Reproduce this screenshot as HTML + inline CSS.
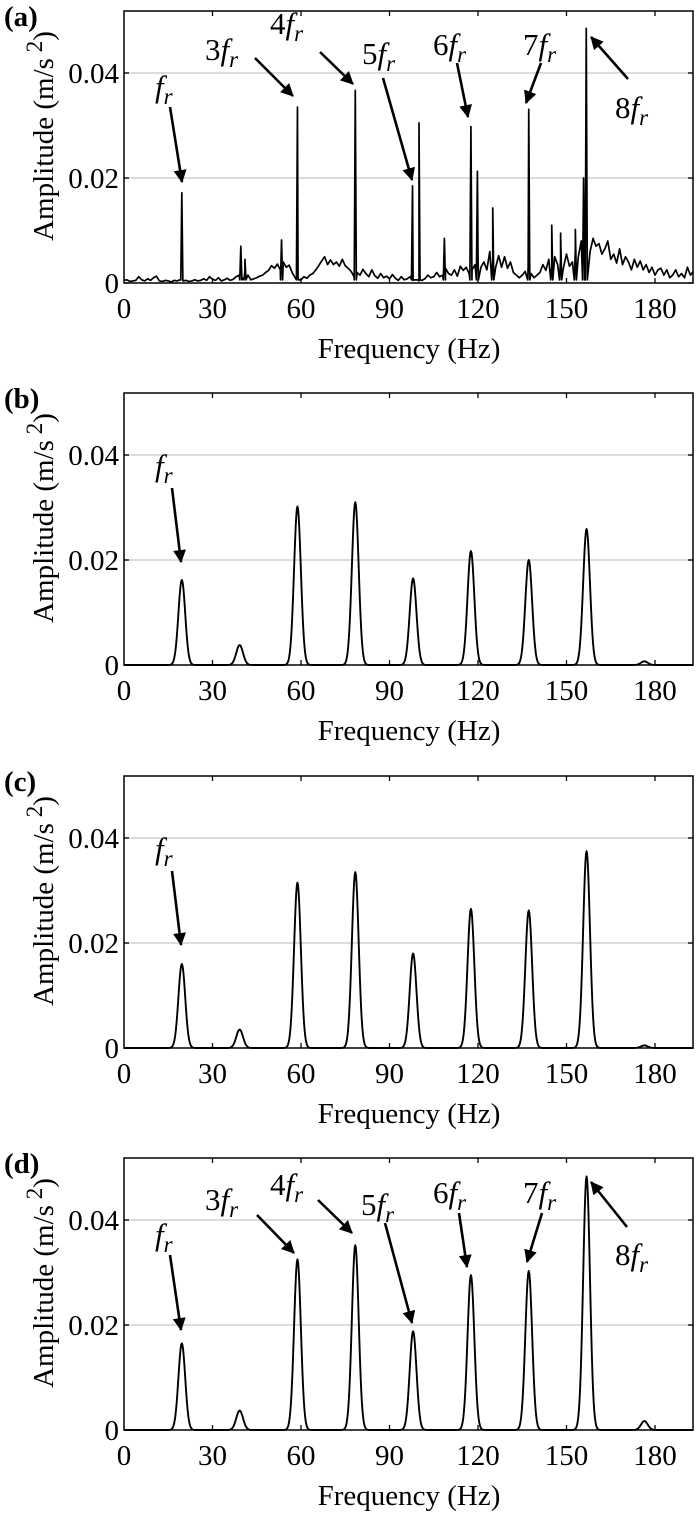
<!DOCTYPE html>
<html><head><meta charset="utf-8"><style>
html,body{margin:0;padding:0;background:#fff;}
svg{display:block;}
svg text{font-family:"Liberation Serif","DejaVu Serif","Times New Roman",serif;}
</style></head><body>
<svg id="fig" width="700" height="1516" viewBox="0 0 700 1516"></svg>
<script>
// ---- data ----
const xTicks=[0,30,60,90,120,150,180];
const yTicks=[0,0.02,0.04];
const yTickLabels=["0","0.02","0.04"];
const panelLabels=["(a)","(b)","(c)","(d)"];
const harmFreq=[19.6,39.2,58.8,78.4,98.0,117.6,137.2,156.8,176.4];
const ampB=[0.0162,0.0038,0.0302,0.0310,0.0165,0.0217,0.0200,0.0259,0.0007];
const ampC=[0.0160,0.0035,0.0315,0.0335,0.0180,0.0265,0.0262,0.0375,0.0005];
const ampD=[0.0165,0.0037,0.0325,0.0352,0.0188,0.0295,0.0303,0.0483,0.0017];
// panel (a): noise floor per 1 Hz (units 1e-3) and spike list
const noiseA=[0.5,0.6,0.3,0.4,0.5,1.2,0.6,0.4,0.8,0.5,1.0,
1.3,0.4,0.3,0.5,0.4,0.2,0.5,0.4,0.6,
0.4,0.5,0.3,0.4,0.6,0.4,0.5,0.8,0.5,1.2,0.7,0.5,1.0,0.4,0.6,0.9,0.5,0.7,1.2,
1.5,1.0,2.4,1.5,0.6,0.8,1.0,1.3,1.5,2.0,2.4,3.3,2.8,3.6,2.5,4.0,3.0,3.4,2.0,
1.0,0.8,0.6,1.2,0.9,1.5,1.8,2.5,3.3,4.2,5.0,3.5,4.4,3.5,4.0,3.2,4.5,3.3,2.8,
2.2,1.2,2.0,1.5,2.6,1.8,1.2,2.5,1.4,0.9,1.8,1.0,1.3,0.8,1.6,0.9,0.5,1.2,0.6,
0.8,1.2,0.5,0.6,0.4,0.5,0.8,1.5,1.0,1.2,2.0,1.2,1.5,2.8,1.8,1.5,2.5,1.3,3.2,2.4,
3.0,1.8,2.5,3.5,5.5,3.0,4.0,2.5,6.0,4.5,3.0,5.2,3.0,5.0,2.8,4.0,2.0,1.5,1.0,1.5,
2.2,3.0,1.8,1.0,1.5,2.0,3.5,2.4,4.5,3.0,5.0,3.5,4.6,3.0,5.5,3.2,4.0,6.5,5.0,8.0,
9.0,7.5,6.0,8.5,7.0,7.5,5.5,6.5,8.0,4.5,5.5,3.8,6.5,3.5,5.0,4.0,2.5,4.5,3.0,4.2,
2.5,3.5,2.0,3.0,1.5,2.5,2.8,1.5,2.5,1.0,1.5,2.5,1.2,1.8,1.0,3.0,1.5,2.2];
const spikeFreqA=[19.6,39.6,41.0,53.4,58.8,78.4,97.8,100.0,108.6,117.6,119.8,125.0,137.2,145.0,148.0,153.0,155.8,156.7];
const spikeAmpA=[0.0172,0.0070,0.0045,0.0082,0.0335,0.0367,0.0185,0.0305,0.0085,0.0298,0.0213,0.0143,0.0331,0.0110,0.0095,0.0102,0.0200,0.0485];

// ---- scales ----
const offsets=[0,382,765,1147];
const X0=124,X1=693,PX_PER_HZ=2.95,TOP=11,BOT=283;
function xs(f){return X0+f*PX_PER_HZ;}
function ys(v,oy){return oy+BOT-v/0.02*105;}
const svg=document.getElementById('fig');
const NS='http://www.w3.org/2000/svg';
function mk(tag,attrs,parent){const e=document.createElementNS(NS,tag);for(const k in attrs)e.setAttribute(k,attrs[k]);(parent||svg).appendChild(e);return e;}

const defs=mk('defs',{});
const mkr=mk('marker',{id:'ah',markerWidth:'5',markerHeight:'5',refX:'4.6',refY:'2.5',orient:'auto',markerUnits:'strokeWidth'},defs);
mk('path',{d:'M0,0 L5,2.5 L0,5 Z',fill:'#000'},mkr);

const annA=[["",155,97,170,107,182,182],["3",205,60,255,58,293,96],["4",270,34,320,52,353,84],
["5",362,64,383,78,412,180],["6",433,55,457,63,468,117],["7",523,55,541,63,526,103],["8",615,118,628,79,591,37]];
const annD=[["",155,1245,170,1255,181,1330],["3",205,1210,257,1215,294,1253],["4",270,1195,318,1200,352,1233],
["5",361,1215,385,1223,412,1323],["6",433,1203,459,1213,467,1267],["7",523,1203,542,1213,527,1262],["8",615,1265,627,1227,591,1182]];
const annB=[["",155,476,172,488,181,562]];
const annC=[["",155,859,172,871,181,945]];
const anns=[annA,annB,annC,annD];

function buildA(){
  const pts=[];
  for(let i=0;i<noiseA.length;i++)pts.push([i,noiseA[i]*0.001]);
  for(let j=0;j<spikeFreqA.length;j++){
    const f=spikeFreqA[j];
    pts.push([f-0.35,0.0006]);pts.push([f,spikeAmpA[j]]);pts.push([f+0.35,0.0006]);
  }
  pts.sort((a,b)=>a[0]-b[0]);
  return pts.filter(p=>p[0]<=193);
}
function buildPeaks(amps){
  const pts=[],s=1.15;
  for(let f=0;f<=193;f+=0.2){
    let v=0;
    for(let k=0;k<harmFreq.length;k++){const d=f-harmFreq[k];v+=amps[k]*Math.exp(-d*d/(2*s*s));}
    pts.push([f,v]);
  }
  return pts;
}
const series=[buildA(),buildPeaks(ampB),buildPeaks(ampC),buildPeaks(ampD)];
const pn=['a','b','c','d'];

for(let p=0;p<4;p++){
  const oy=offsets[p];
  const g=mk('g',{});
  
  
  for(const v of [0.02,0.04]){
    const gl=mk('line',{x1:X0,x2:X1,y1:ys(v,oy),y2:ys(v,oy),stroke:'#d0d0d0','stroke-width':1.5},g);
    
    
  }
  const d=series[p].map((q,i)=>(i?'L':'M')+xs(q[0]).toFixed(2)+','+ys(q[1],oy).toFixed(2)).join('');
  const ln=mk('path',{d:d,fill:'none',stroke:'#000','stroke-width':p===0?1.7:1.9,'stroke-linejoin':'round'},g);
  
  
  const bx=mk('rect',{x:X0,y:oy+TOP,width:X1-X0,height:BOT-TOP,fill:'none',stroke:'#000','stroke-width':1.5},g);
  
  
  for(const t of xTicks){
    const x=xs(t);
    if(t>0){mk('line',{x1:x,x2:x,y1:oy+BOT,y2:oy+BOT-5,stroke:'#000','stroke-width':1.3},g);
    mk('line',{x1:x,x2:x,y1:oy+TOP,y2:oy+TOP+5,stroke:'#000','stroke-width':1.3},g);}
    const tx=mk('text',{x:x,y:oy+318,'font-size':29,'text-anchor':'middle'},g);
    tx.textContent=String(t);
    
    
  }
  for(let i=0;i<yTicks.length;i++){
    const y=ys(yTicks[i],oy);
    mk('line',{x1:X0,x2:X0+5,y1:y,y2:y,stroke:'#000','stroke-width':1.3},g);
    mk('line',{x1:X1,x2:X1-5,y1:y,y2:y,stroke:'#000','stroke-width':1.3},g);
    const ty=mk('text',{x:119,y:y+10,'font-size':29,'text-anchor':'end'},g);
    ty.textContent=yTickLabels[i];
    
    
  }
  const xt=mk('text',{x:409,y:oy+358,'font-size':29,'text-anchor':'middle'},g);
  xt.textContent='Frequency (Hz)';
  
  
  const yt=mk('text',{x:0,y:0,'font-size':29,'text-anchor':'middle',transform:'translate(53,'+(oy+136)+') rotate(-90)'},g);
  yt.innerHTML='Amplitude (m/s<tspan dy="-11" font-size="23"> 2</tspan><tspan dy="11">)</tspan>';
  
  
  const pl=mk('text',{x:4,y:oy+26,'font-size':29,'font-weight':'bold'},g);
  pl.textContent=panelLabels[p];
  
  
  for(const a of anns[p]){
    const lb=mk('text',{x:a[1],y:a[2],'font-size':31},g);
    lb.innerHTML=(a[0]?a[0]:'')+'<tspan font-style="italic">f</tspan><tspan font-style="italic" font-size="23" dy="7">r</tspan>';
    
    
    const ar=mk('line',{x1:a[3],y1:a[4],x2:a[5],y2:a[6],stroke:'#000','stroke-width':2.6,'marker-end':'url(#ah)'},g);
    
    
  }
}
</script>
</body></html>
